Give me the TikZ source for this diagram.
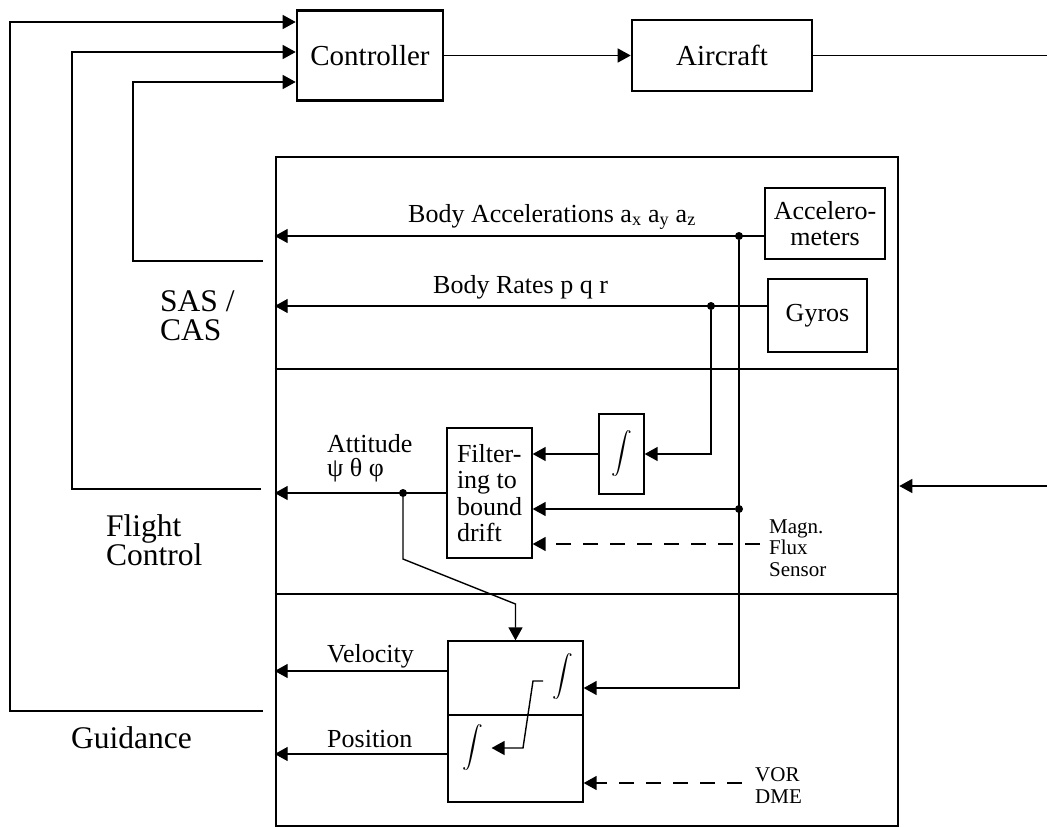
\documentclass[tikz,border=0pt]{standalone}
\usepackage{amsmath}
\usepackage{fontspec}
\setmainfont{Liberation Serif}
\usetikzlibrary{arrows.meta,positioning}
\newcommand{\intsym}{{\fontsize{22}{22}\selectfont$\displaystyle\int$}}
\tikzset{
  blk/.style={rectangle, draw, line width=2.6pt, inner sep=0pt, align=center,
              font=\fontsize{29}{32}\selectfont},
  subblk/.style={rectangle, draw, line width=1.3pt, inner sep=0pt, align=center,
                 font=\fontsize{26}{26.3}\selectfont},
  insbox/.style={rectangle, draw, line width=2.6pt, inner sep=0pt},
  lbl/.style={inner sep=0pt, align=left, font=\fontsize{26}{23.5}\selectfont},
  side/.style={inner sep=0pt, align=left, font=\fontsize{31.5}{29}\selectfont},
  sens/.style={inner sep=0pt, align=left, font=\fontsize{21}{21.5}\selectfont},
  intg/.style={inner sep=0pt, inner xsep=8pt},
  wire/.style={line width=1.4pt},
  arr/.style={-{Triangle[length=13pt,width=14pt]}, line width=1.4pt},
  dasharr/.style={arr, dash pattern=on 15pt off 12pt},
  junc/.style={circle, fill, inner sep=0pt, minimum size=8pt}
}
\begin{document}
\begin{tikzpicture}[x=1pt,y=-1pt]
\useasboundingbox (0,0) rectangle (1047,827);
% control loop
\node[blk, minimum width=146pt, minimum height=90pt] (ctrl) at (370,55.5) {Controller};
\node[blk, minimum width=180pt, minimum height=71pt] (acft) at (722,55.5) {Aircraft};
\draw[arr] (ctrl.east) -- (acft.west);
\coordinate (outR) at (1047,55.5);
\draw[wire] (acft.east) -- (outR);

% inertial system
\node[insbox, minimum width=622pt, minimum height=669pt] (ins) at (587,491.5) {};
\draw[line width=2.6pt] (ins.west |- 0,369) -- (ins.east |- 0,369);
\draw[line width=2.6pt] (ins.west |- 0,594) -- (ins.east |- 0,594);
\coordinate (inR) at (1047,486);
\draw[arr] (inR) -- (ins.east |- inR);

% sensors
\node[subblk, minimum width=120pt, minimum height=71pt] (accl) at (825,223.5) {Accelero-\\meters};
\node[subblk, minimum width=99pt, minimum height=73pt] (gyro) at (817.5,315.5) {Gyros};
\node[junc] (accdot) at (739,236) {};
\node[junc] (ratedot) at (711,306) {};
\draw[arr] (accl.west |- accdot) -- (ins.west |- accdot);
\draw[arr] (gyro.west |- ratedot) -- (ins.west |- ratedot);
\node[lbl, anchor=base west] (acclbl) at (408,222) {Body Accelerations a\textsubscript{x} a\textsubscript{y} a\textsubscript{z}};
\node[lbl, anchor=base west] (ratelbl) at (433,293) {Body Rates p q r};

% attitude
\node[subblk, minimum width=45pt, minimum height=80pt] (integ) at (621.5,454) {\intsym};
\node[subblk, align=left, minimum width=85pt, minimum height=130pt] (filt) at (489.5,493) {Filter-\\ing to\\bound\\drift};
\draw[arr] (ratedot) |- (integ.east);
\draw[arr] (integ.west) -- (filt.east |- integ.west);
\node[junc] (accfdot) at (739,509) {};
\draw[arr] (accfdot) -- (filt.east |- accfdot);
\coordinate (magn) at (760,544);
\draw[dasharr] (magn) -- (filt.east |- magn);
\node[sens, anchor=base west] (magnlbl) at (769,576) {Magn.\\Flux\\Sensor};
\node[junc] (attdot) at (403,493) {};
\draw[arr] (filt.west) -- (ins.west |- filt.west);
\node[lbl, anchor=base west] (attlbl) at (327,476) {Attitude\\ψ θ φ};

% velocity and position
\node[subblk, minimum width=135pt, minimum height=74pt] (velblk) at (515.5,678) {};
\node[subblk, minimum width=135pt, minimum height=87pt, below=-1.3pt of velblk] (posblk) {};
\node[intg] (intA) at (563,677) {\intsym};
\node[intg] (intB) at (473,748) {\intsym};
\coordinate (ia) at (543,681);
\draw[arr] (ia) -- ++(-10,0) -- (523,748) -- (intB.east);
\draw[arr] (attdot) -- (attdot |- 0,559) -- (velblk.north |- 0,604) -- (velblk.north);
\draw[arr] (accdot) |- ([yshift=-10pt]velblk.east);
\coordinate (velout) at ([yshift=7pt]velblk.west);
\coordinate (posout) at ([yshift=4.5pt]posblk.west);
\draw[arr] (velout) -- (ins.west |- velout);
\draw[arr] (posout) -- (ins.west |- posout);
\node[lbl, anchor=base west] (vellbl) at (327,662) {Velocity};
\node[lbl, anchor=base west] (poslbl) at (327,747) {Position};
\coordinate (vor) at (742,783);
\draw[dasharr] (vor) -- (posblk.east |- vor);
\node[sens, anchor=base west] (vorlbl) at (755,803) {VOR\\DME};

% feedback paths
\coordinate (sasout) at (263,261);
\coordinate (fcout) at (261,489);
\coordinate (gdout) at (263,711);
\draw[arr] (sasout) -- (133,261) |- ([yshift=-26.5pt]ctrl.west);
\draw[arr] (fcout) -- (72,489) |- ([yshift=3.5pt]ctrl.west);
\draw[arr] (gdout) -- (10,711) |- ([yshift=33.5pt]ctrl.west);
\node[side, anchor=base west] (saslbl) at (160,340) {SAS /\\CAS};
\node[side, anchor=base west] (fclbl) at (106,565) {Flight\\Control};
\node[side, anchor=base west] (gdlbl) at (71,748) {Guidance};
\end{tikzpicture}
\end{document}
